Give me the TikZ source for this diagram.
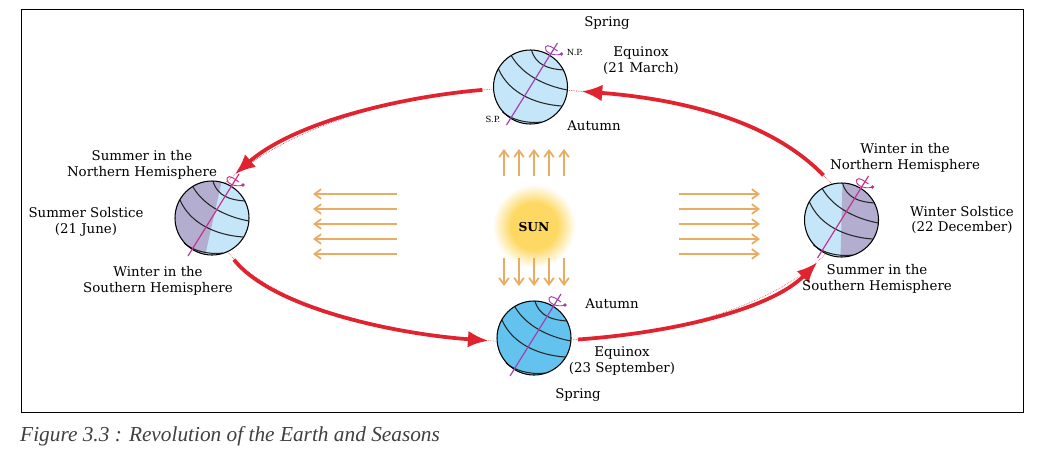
\documentclass[tikz,border=0pt]{standalone}
\usepackage{fontspec}
\setmainfont{DejaVu Serif}
\newfontfamily\captionfont{Liberation Serif}
\usetikzlibrary{arrows.meta}
\definecolor{orbitred}{HTML}{E0232E}
\definecolor{rayorange}{HTML}{E9AC62}
\definecolor{palesky}{HTML}{C5E6F8}
\definecolor{deepsky}{HTML}{63C3EE}
\definecolor{nightside}{HTML}{B3AED0}
\definecolor{axispurple}{HTML}{A040B0}
\definecolor{axispink}{HTML}{C7308E}
\definecolor{sunyellow}{HTML}{FDD862}
\pgfdeclareradialshading{sunglow}{\pgfpoint{0bp}{0bp}}{color(0bp)=(sunyellow); color(14bp)=(sunyellow); color(25bp)=(white); color(50bp)=(white)}
\tikzstyle{globe}=[circle,minimum size=2.22cm,inner sep=0pt]
\tikzstyle{lat}=[black!85,line width=0.9pt]
\tikzstyle{orbit}=[orbitred,line width=3.2pt,-{Latex[length=0.62cm,width=0.5cm]}]
\tikzstyle{orbitdot}=[orbitred,line width=0.5pt,densely dotted]
\tikzstyle{ray}=[rayorange,line width=1.5pt,-{Straight Barb[length=2mm,width=2.9mm]}]
\tikzstyle{lab}=[font=\fontsize{11.4}{13.5}\selectfont,align=center,inner sep=0pt,text=black]
\tikzstyle{pole}=[font=\fontsize{7.2}{8}\selectfont,inner sep=0pt]
\newcommand{\drawglobe}[5]{
	\node[globe,fill=#3] (#1) at (#2) {};
	\begin{scope}[shift={(#1)}]
		\begin{scope}
			\clip (0,0) circle [radius=37];
			\fill[nightside] #5;
		\end{scope}
		\draw[lat] (1,-37) .. controls (5,-22) and (18,-18) .. (33,-17);
		\draw[lat] (-19,-31) .. controls (-8,-12) and (15,-1) .. (37,3);
		\draw[lat] (-32,-18) .. controls (-22,5) and (3,17) .. (31,19);
		\draw[lat] (-28,25) .. controls (-20,32) and (-5,37) .. (11,35);
		\draw[line width=0.9pt] (0,0) circle [radius=37];
		\draw[#4,line width=1pt] (-24,38) -- (27,-44);
		\draw[#4,line width=0.8pt] (31,-33) .. controls (22,-30) and (13,-36) .. (15,-40) .. controls (17,-44) and (24,-38) .. (27,-36);
		\fill[#4] (31,-33) circle [radius=1.8];
	\end{scope}
}
\newcommand{\drawrays}[1]{
	\foreach \a/\b/\c/\d in {#1}{
		\coordinate (rs) at (\a,\b);
		\coordinate (re) at (\c,\d);
		\draw[ray] (rs) -- (re);
	}
}

\begin{document}
\begin{tikzpicture}[x=0.03cm,y=-0.03cm]
\useasboundingbox (0,0) rectangle (1048,463);
\draw[line width=0.7pt] (21,9) rectangle (1023,412);

\node[circle,minimum size=2.5cm,inner sep=0pt,shading=sunglow] (sun) at (534,226) {};
\node[font=\fontsize{10.5}{11}\selectfont\bfseries,inner sep=0pt] (sunlabel) at (534,227) {SUN};

\drawglobe{spring}{530.5,87}{palesky}{axispurple}{(0,0)}
\drawglobe{solstice}{212,218}{palesky}{axispink}{(10,-38) -- (-7,38) -- (-40,38) -- (-40,-38) -- cycle}
\drawglobe{winter}{841.5,220}{palesky}{axispink}{(1,-38) -- (-1,38) -- (40,38) -- (40,-38) -- cycle}
\drawglobe{autumn}{534,338}{deepsky}{axispurple}{(0,0)}

% orbit
\draw[orbitdot] (spring.183) .. controls (400,97) and (295,122) .. (solstice.70);
\draw[orbit,shorten <=0.33cm,shorten >=0.4cm] (spring.183) .. controls (400,97) and (295,122) .. (solstice.70);
\draw[orbitdot] (solstice.-65) .. controls (272,308) and (395,334) .. (autumn.185);
\draw[orbit,shorten <=0.3cm,shorten >=0.25cm] (solstice.-65) .. controls (272,308) and (395,334) .. (autumn.185);
\draw[orbitdot] (autumn.-3) .. controls (670,333) and (770,310) .. (winter.-115);
\draw[orbit,shorten <=0.2cm,shorten >=0.36cm] (autumn.-3) .. controls (670,333) and (770,310) .. (winter.-115);
\draw[orbitdot] (winter.105) .. controls (770,120) and (680,99) .. (spring.-5);
\draw[orbit,shorten <=0.36cm,shorten >=0.42cm] (winter.105) .. controls (770,120) and (680,99) .. (spring.-5);

\drawrays{397/194/313/194,397/209/313/209,397/224/313/224,397/239/313/239,397/254/313/254}
\drawrays{679/194/760/194,679/209/760/209,679/224/760/224,679/239/760/239,679/254/760/254}
\drawrays{504/176/504/149,519/176/519/149,534/176/534/149,549/176/549/149,564/176/564/149}
\drawrays{504/258/504/286,519/258/519/286,534/258/534/286,549/258/549/286,564/258/564/286}

\node[pole] (np) at (575,52) {N.P.};
\node[pole] (sp) at (493,119) {S.P.};

\node[lab] (topspring) at (607,23) {Spring};
\node[lab] (marchlabel) at (641,61) {Equinox\\(21 March)};
\node[lab] (topautumn) at (594,126) {Autumn};
\node[lab] (leftnorth) at (142,165) {Summer in the\\Northern Hemisphere};
\node[lab] (junelabel) at (86,222) {Summer Solstice\\(21 June)};
\node[lab] (leftsouth) at (158,281) {Winter in the\\Southern Hemisphere};
\node[lab] (rightnorth) at (905,158) {Winter in the\\Northern Hemisphere};
\node[lab] (decemberlabel) at (962,220) {Winter Solstice\\(22 December)};
\node[lab] (rightsouth) at (877,279) {Summer in the\\Southern Hemisphere};
\node[lab] (lowautumn) at (612,304) {Autumn};
\node[lab] (septemberlabel) at (622,361) {Equinox\\(23 September)};
\node[lab] (lowspring) at (578,395) {Spring};

\node[anchor=west,inner sep=0pt,text=black!75,font=\captionfont\itshape\fontsize{18.2}{20}\selectfont] (figcaption) at (20,436) {Figure 3.3 : Revolution of the Earth and Seasons};
\end{tikzpicture}
\end{document}
